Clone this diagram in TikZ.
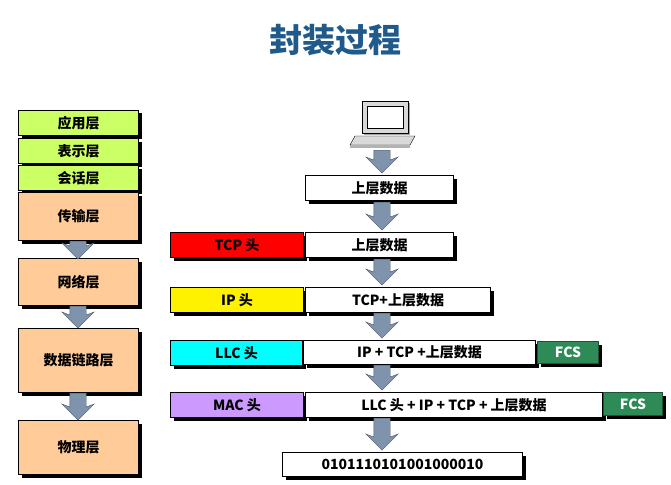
\documentclass[tikz,border=0pt]{standalone}
\usepackage{fontspec}
\setmainfont{Noto Sans CJK SC}
\usetikzlibrary{shapes.arrows, shadows, positioning}
\definecolor{layergreen}{HTML}{CCFF66}
\definecolor{layerorange}{HTML}{FFCC99}
\definecolor{arrowgray}{HTML}{7F93AD}
\definecolor{titleblue}{HTML}{1F5A8A}
\definecolor{fcsgreen}{HTML}{2E8B57}
\definecolor{machead}{HTML}{CC99FF}
\definecolor{llchead}{HTML}{00FFFF}
\begin{document}
\begin{tikzpicture}[x=1pt, y=-1pt,
        box/.style={rectangle, draw=black, line width=1pt, anchor=north west, inner sep=0pt,
            font=\bfseries\fontsize{14}{14}\selectfont,
            drop shadow={shadow xshift=3pt, shadow yshift=-3pt, opacity=1, fill=black}},
        down/.style={single arrow, draw=arrowgray!60!black, fill=arrowgray, rotate=-90,
            single arrow head extend=8pt, single arrow head indent=3pt, inner xsep=0pt,
            inner ysep=8pt, anchor=west},
        sz/.style 2 args={minimum width=#1pt, minimum height=#2pt}]
    \useasboundingbox (0,0) rectangle (671,484);

    % Title
    \node[font=\bfseries\fontsize{33}{33}\selectfont, text=titleblue] (title) at (335,40) {封装过程};

    % Layer stack
    \node[box, fill=layergreen, sz={120}{25}] (app) at (18,110) {应用层};
    \node[box, fill=layergreen, sz={120}{25}] (pres) at (18,138) {表示层};
    \node[box, fill=layergreen, sz={120}{25}] (sess) at (18,165) {会话层};
    \node[box, fill=layerorange, sz={120}{48}] (trans) at (18,192) {传输层};
    \node[box, fill=layerorange, sz={120}{47}] (net) at (18,258) {网络层};
    \node[box, fill=layerorange, sz={120}{64}] (link) at (18,328) {数据链路层};
    \node[box, fill=layerorange, sz={120}{54}] (phy) at (18,420) {物理层};
    \node[down, minimum height=18pt] at (78,241) {};
    \node[down, minimum height=22pt] at (78,306) {};
    \node[down, minimum height=27pt] at (78,393) {};

    % Computer
    \fill[gray!70] (364,103) rectangle (410,135);
    \draw[black, fill=gray!30] (362,101) rectangle (408,133);
    \draw[black, fill=white] (367,106) rectangle (403,128);
    \draw[black, fill=gray!30] (355,136) -- (415,136) -- (410,145) -- (350,145) -- cycle;
    \fill[gray!60] (350,145) rectangle (410,148);

    % Encapsulation rows
    \node[box, fill=white, sz={148}{25}] (data) at (305,175) {上层数据};

    \node[box, fill=red, sz={133}{25}] (tcph) at (170,232) {TCP 头};
    \node[box, fill=white, sz={148}{25}] (seg) at (305,232) {上层数据};

    \node[box, fill=yellow, sz={133}{25}] (iph) at (170,287) {IP 头};
    \node[box, fill=white, sz={185}{25}] (pkt) at (305,287) {TCP+上层数据};

    \node[box, fill=llchead, sz={132}{25}] (llch) at (170,340) {LLC 头};
    \node[box, fill=white, sz={232}{24}] (llc) at (303,340) {IP + TCP +上层数据};
    \node[box, fill=fcsgreen, draw=fcsgreen!60!black, text=white, sz={61}{22}] (fcsa) at (537,341) {FCS};

    \node[box, fill=machead, sz={133}{25}] (mach) at (170,392) {MAC 头};
    \node[box, fill=white, sz={297}{25}] (frame) at (305,392) {LLC 头 + IP + TCP + 上层数据};
    \node[box, fill=fcsgreen, draw=fcsgreen!60!black, text=white, sz={59}{23}] (fcsb) at (603,392) {FCS};

    \node[box, fill=white, sz={240}{24}] (bits) at (282,452) {0101110101001000010};

    % Arrows
    \node[down, minimum height=23pt] at (382,150) {};
    \node[down, minimum height=28pt] at (382,202) {};
    \node[down, minimum height=26pt] at (382,259) {};
    \node[down, minimum height=25pt] at (382,313) {};
    \node[down, minimum height=25pt] at (382,365) {};
    \node[down, minimum height=32pt] at (382,418) {};
\end{tikzpicture}
\end{document}
